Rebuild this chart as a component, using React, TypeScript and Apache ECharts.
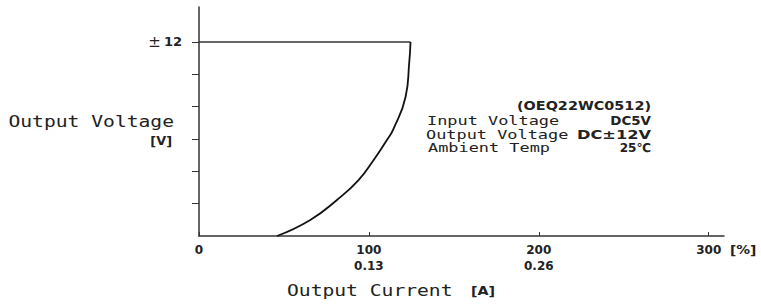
import React, { useEffect, useRef } from "react";
import * as echarts from "echarts";

// Data
const flatLine: [number, number][] = [
  [0, 12],
  [124.5, 12],
];
const droopCurve: [number, number][] = [
  [124.5, 12],
  [123.7, 10.68],
  [121.6, 8.61],
  [114.2, 6.56],
  [110.6, 5.94],
  [102.8, 4.7],
  [93.9, 3.46],
  [81.2, 2.23],
  [65.5, 0.99],
  [45.9, 0],
];
const xTickValues = [0, 100, 200, 300];
const xCurrentLabels = ["", "0.13", "0.26", ""];
const yTickValues = [2, 4, 6, 8, 10, 12];
const yLabelValues = [12];

const MONO = "DejaVu Sans Mono";
const SANS = "DejaVu Sans";
const INK = "#222";

export default function App() {
  const ref = useRef<HTMLDivElement>(null);
  useEffect(() => {
    if (!ref.current) return;
    const chart = echarts.init(ref.current, null, { renderer: "svg" });

    const txt = (
      text: string,
      x: number,
      y: number,
      opts: { align?: string; mono?: boolean; size?: number; scaleX?: number; bold?: boolean }
    ) => ({
      type: "text",
      x,
      y,
      scaleX: opts.scaleX ?? 1,
      style: {
        text,
        x: 0,
        y: 0,
        align: opts.align ?? "left",
        verticalAlign: "middle",
        fontFamily: opts.mono ? MONO : SANS,
        fontSize: opts.size ?? 12,
        fontWeight: opts.bold ? "bold" : "normal",
        fill: INK,
      },
    });

    chart.setOption({
      animation: false,
      grid: { left: 199, top: 7, right: 37, bottom: 70, containLabel: false },
      xAxis: {
        type: "value",
        min: 0,
        max: 309,
        splitLine: { show: false },
        axisLine: { show: true, lineStyle: { color: "#333", width: 1.5 } },
        axisTick: {
          show: true,
          inside: true,
          length: 4,
          customValues: xTickValues,
          lineStyle: { color: "#333", width: 1 },
        },
        axisLabel: {
          customValues: xTickValues,
          margin: 6,
          fontFamily: SANS,
          fontSize: 12,
          fontWeight: "bold",
          color: INK,
          lineHeight: 16,
          formatter: (v: number) => {
            const i = xTickValues.indexOf(v);
            const sub = i >= 0 ? xCurrentLabels[i] : "";
            return sub ? `${v}\n${sub}` : `${v}`;
          },
        },
      },
      yAxis: {
        type: "value",
        min: 0,
        max: 14.16,
        splitLine: { show: false },
        axisLine: { show: true, lineStyle: { color: "#333", width: 1.5 } },
        axisTick: {
          show: true,
          inside: false,
          length: 7,
          customValues: yTickValues,
          lineStyle: { color: "#333", width: 1 },
        },
        axisLabel: {
          customValues: yLabelValues,
          margin: 17,
          color: INK,
          formatter: (v: number) => `{pm|±}{n|${v}}`,
          rich: {
            pm: { fontFamily: SANS, fontSize: 15, fontWeight: "normal", color: INK, padding: [0, 3, 0, 0] },
            n: { fontFamily: SANS, fontSize: 13, fontWeight: "bold", color: INK },
          },
        },
      },
      series: [
        {
          type: "line",
          data: flatLine,
          symbol: "none",
          lineStyle: { color: "#333", width: 1.5 },
        },
        {
          type: "line",
          data: droopCurve,
          symbol: "none",
          smooth: 0.5,
          lineStyle: { color: "#111", width: 1.8 },
        },
      ],
      graphic: [
        txt("Output Voltage", 174, 122, { align: "right", mono: true, size: 15, scaleX: 1.31 }),
        txt("[V]", 172, 141, { align: "right", bold: true, size: 12, scaleX: 1.07 }),
        txt("[%]", 730, 250, { align: "left", bold: true, size: 12, scaleX: 1.15 }),
        txt("Output Current", 287, 291, { align: "left", mono: true, size: 15, scaleX: 1.31 }),
        txt("[A]", 471, 291, { align: "left", bold: true, size: 12, scaleX: 1.19 }),
        txt("(OEQ22WC0512)", 651, 106, { align: "right", bold: true, size: 12, scaleX: 1.2 }),
        txt("Input Voltage", 427, 121, { align: "left", mono: true, size: 13, scaleX: 1.3 }),
        txt("Output Voltage", 426, 134.5, { align: "left", mono: true, size: 13, scaleX: 1.3 }),
        txt("Ambient Temp", 428, 148, { align: "left", mono: true, size: 13, scaleX: 1.3 }),
        txt("DC5V", 651, 121, { align: "right", bold: true, size: 12, scaleX: 1.12 }),
        txt("DC±12V", 651, 134.5, { align: "right", bold: true, size: 12, scaleX: 1.35 }),
        txt("25℃", 651, 148, { align: "right", bold: true, size: 12, scaleX: 1.0 }),
      ],
    });
    return () => chart.dispose();
  }, []);
  return (
    <div
      ref={ref}
      style={{ position: "absolute", left: 0, top: 0, width: 761, height: 306, background: "#fff" }}
    />
  );
}
